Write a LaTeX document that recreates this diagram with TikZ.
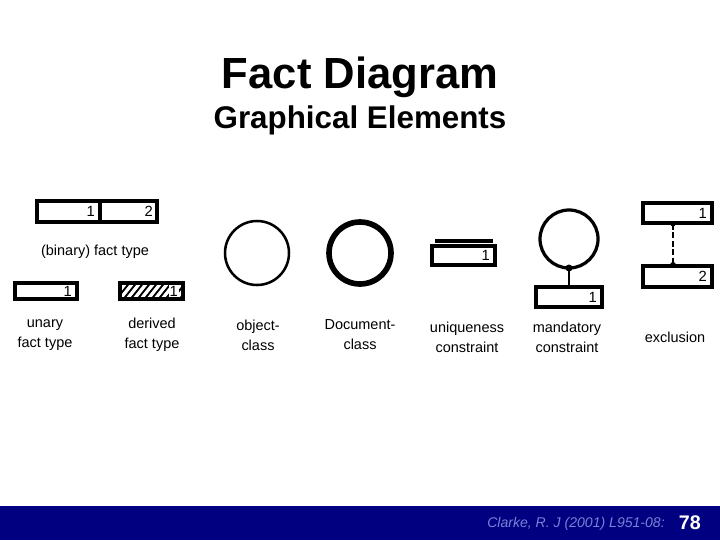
\documentclass[tikz,border=0pt]{standalone}
\usepackage{fontspec}
\setmainfont{Liberation Sans}
\usetikzlibrary{calc}
\definecolor{footblue}{RGB}{0,0,128}
\definecolor{footgray}{RGB}{120,130,215}

\tikzset{
  factbox/.style={line width=2.3pt},
  rolenum/.style={font=\fontsize{10.5}{10.5}\selectfont, anchor=east, inner sep=0.6pt},
  caption/.style={font=\fontsize{10.3}{14.2}\selectfont, align=center, inner sep=0pt},
}

\begin{document}
\begin{tikzpicture}[x=0.025cm,y=-0.025cm]
\useasboundingbox (0,0) rectangle (720,540);

% titles
\node (title) at (360,77) {\fontsize{31}{31}\selectfont\bfseries Fact Diagram};
\node (subtitle) at (360,120) {\fontsize{22.3}{22}\selectfont\bfseries Graphical Elements};

% binary fact type
\draw[factbox] (37,201) rectangle (157,222);
\draw[factbox] (100,201)--(100,222);
\node[rolenum] (bin1) at (96,211.5) {1};
\node[rolenum] (bin2) at (154,211.5) {2};
\node[caption] (bincap) at (95,252) {(binary) fact type};

% unary and derived fact type
\draw[factbox] (15,283) rectangle (77,299);
\node[rolenum] (un1) at (73,291) {1};
\begin{scope}
\clip (120,283) rectangle (183,299);
\foreach \k in {0,...,10}
  \draw[line width=1.3pt] (108+7*\k,301)--(124+7*\k,281);
\end{scope}
\draw[factbox] (120,283) rectangle (183,299);
\node[rolenum,fill=white] (der1) at (179,291) {1};
\node[caption] (uncap) at (45,335) {unary\\fact type};
\node[caption] (dercap) at (152,335) {derived\\fact type};

% object-class and document-class
\draw[line width=1.8pt] (257,253) circle[radius=32];
\draw[line width=4pt] (360,253) circle[radius=31];
\node[caption] (objcap) at (258,335) {object-\\class};
\node[caption] (doccap) at (360,335) {Document-\\class};

% uniqueness constraint
\draw[line width=2.2pt] (435,241)--(493,241);
\draw[factbox] (432,246) rectangle (495,265);
\node[rolenum] (uq1) at (491,255.5) {1};
\node[caption] (uqcap) at (467,337) {uniqueness\\constraint};

% mandatory constraint
\draw[line width=2.3pt] (569,239) circle[radius=29];
\coordinate (mdot) at (569,268);
\coordinate (mtop) at (569,287);
\fill (mdot) circle[radius=3.5];
\draw[line width=1.4pt] (mdot)--(mtop);
\draw[factbox] (536,287) rectangle (602,307);
\node[rolenum] (md1) at (598,297) {1};
\node[caption] (mdcap) at (567,337) {mandatory\\constraint};

% exclusion
\draw[factbox] (643,203) rectangle (712,223);
\node[rolenum] (ex1) at (708,213) {1};
\draw[factbox] (643,266) rectangle (712,287);
\node[rolenum] (ex2) at (708,276.5) {2};
\coordinate (exa) at (673,224);
\coordinate (exb) at (673,265);
\fill (exa) circle[radius=2.5];
\fill (exb) circle[radius=3];
\draw[line width=1.3pt,dash pattern=on 4pt off 2pt] (exa)--(exb);
\node[caption] (excap) at (675,337) {exclusion};

% footer
\fill[footblue] (0,506) rectangle (720,540);
\node[anchor=east, text=white, font=\fontsize{14}{14}\selectfont\bfseries, inner sep=0pt] (page) at (701,523) {78};
\node[anchor=east, text=footgray, font=\fontsize{10}{10}\selectfont\itshape, inner sep=0pt] (cite) at (665,524) {Clarke, R. J (2001) L951-08:};

\end{tikzpicture}
\end{document}
